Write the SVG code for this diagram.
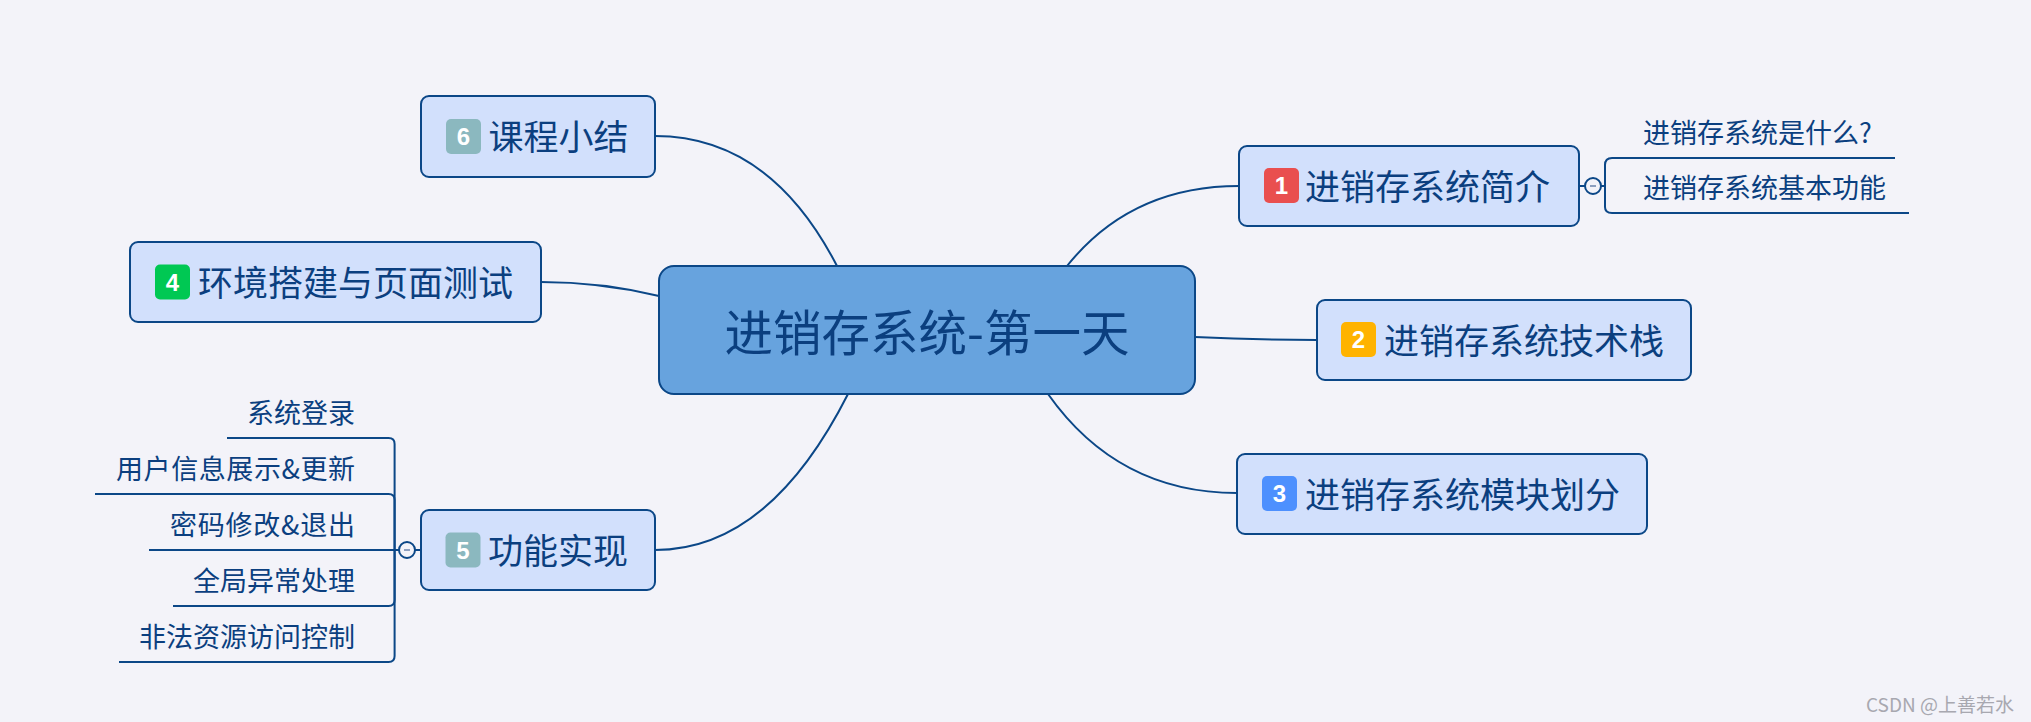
<svg xmlns="http://www.w3.org/2000/svg" width="2031" height="722" viewBox="0 0 2031 722">
<style>
.bg{fill:#f3f3f9}
.node{fill:#d2e0fc;stroke:#0b4787;stroke-width:2}
.central{fill:#67a3de;stroke:#0b4787;stroke-width:2}
.t{font-family:"Noto Sans CJK SC","Noto Sans",sans-serif;fill:#0b3f7f}
.main{font-size:35px}
.sub{font-size:27px}
.badge-t{font-family:"Liberation Sans",Arial,sans-serif;font-weight:bold;font-size:24px;fill:#ffffff;text-anchor:middle}
.conn{fill:none;stroke:#0b4787;stroke-width:2}
.toggle{fill:#f3f3f9;stroke:#0b4787;stroke-width:2}
.minus{stroke:#8c9fbf;stroke-width:2}
</style>
<rect class="bg" x="0" y="0" width="2031" height="722"/>
<g id="connectors">
<path class="conn" d="M1067,266 Q1131,186 1239,186"/>
<path class="conn" d="M1195,337 Q1256,340 1317,340"/>
<path class="conn" d="M1048,394 Q1118,493 1237,493"/>
<path class="conn" d="M837,266 Q770,136 655,136"/>
<path class="conn" d="M659,296 Q601,282 541,282"/>
<path class="conn" d="M848,394 Q769,550 655,550"/>
<path class="conn" d="M1579,186 H1585"/>
<path class="conn" d="M1601,186 H1605 V165 Q1605,158 1612,158 H1895"/>
<path class="conn" d="M1601,186 H1605 V207 Q1605,213 1612,213 H1909"/>
<path class="conn" d="M421,550 H415"/>
<path class="conn" d="M399,550 H394.6 V444 Q394.6,438 388.6,438 H227"/>
<path class="conn" d="M399,550 H394.6 V500 Q394.6,494 388.6,494 H95"/>
<path class="conn" d="M399,550 H149"/>
<path class="conn" d="M399,550 H394.6 V600 Q394.6,606 388.6,606 H173"/>
<path class="conn" d="M399,550 H394.6 V656 Q394.6,662 388.6,662 H119"/>
</g>
<g id="central">
<rect class="central" x="659" y="266" width="536" height="128" rx="15"/>
<text class="t" x="927" y="351" font-size="48.5" text-anchor="middle">进销存系统-第一天</text>
</g>
<g id="node1">
<rect class="node" x="1239" y="146" width="340" height="80" rx="8"/>
<rect x="1264" y="168" width="35" height="35" rx="5" fill="#e94f4f"/>
<text class="badge-t" x="1281.5" y="194">1</text>
<text class="t main" x="1305" y="200">进销存系统简介</text>
<circle class="toggle" cx="1593" cy="186" r="8"/>
<line class="minus" x1="1590" y1="186" x2="1596" y2="186"/>
</g>
<g id="node1-sub1"><text class="t sub" x="1643" y="143">进销存系统是什么?</text></g>
<g id="node1-sub2"><text class="t sub" x="1643" y="198">进销存系统基本功能</text></g>
<g id="node2">
<rect class="node" x="1317" y="300" width="374" height="80" rx="8"/>
<rect x="1341" y="322" width="35" height="35" rx="5" fill="#ffb300"/>
<text class="badge-t" x="1358.5" y="348">2</text>
<text class="t main" x="1384" y="354">进销存系统技术栈</text>
</g>
<g id="node3">
<rect class="node" x="1237" y="454" width="410" height="80" rx="8"/>
<rect x="1262" y="476" width="35" height="35" rx="5" fill="#4d90fe"/>
<text class="badge-t" x="1279.5" y="502">3</text>
<text class="t main" x="1305" y="508">进销存系统模块划分</text>
</g>
<g id="node4">
<rect class="node" x="130" y="242" width="411" height="80" rx="8"/>
<rect x="155" y="264.5" width="35" height="35" rx="5" fill="#00c853"/>
<text class="badge-t" x="172.5" y="290.5">4</text>
<text class="t main" x="198" y="296">环境搭建与页面测试</text>
</g>
<g id="node5">
<rect class="node" x="421" y="510" width="234" height="80" rx="8"/>
<rect x="445.5" y="532.5" width="35" height="35" rx="5" fill="#8bb8bf"/>
<text class="badge-t" x="463" y="558.5">5</text>
<text class="t main" x="488" y="564">功能实现</text>
<circle class="toggle" cx="407" cy="550" r="8"/>
<line class="minus" x1="404" y1="550" x2="410" y2="550"/>
</g>
<g id="node5-sub1"><text class="t sub" x="355" y="423" text-anchor="end">系统登录</text></g>
<g id="node5-sub2"><text class="t sub" x="116" y="479" textLength="239" lengthAdjust="spacing">用户信息展示&amp;更新</text></g>
<g id="node5-sub3"><text class="t sub" x="170" y="535" textLength="185" lengthAdjust="spacing">密码修改&amp;退出</text></g>
<g id="node5-sub4"><text class="t sub" x="355" y="591" text-anchor="end">全局异常处理</text></g>
<g id="node5-sub5"><text class="t sub" x="355" y="647" text-anchor="end">非法资源访问控制</text></g>
<g id="node6">
<rect class="node" x="421" y="96" width="234" height="81" rx="8"/>
<rect x="446" y="119" width="35" height="35" rx="5" fill="#8bb8bf"/>
<text class="badge-t" x="463.5" y="145">6</text>
<text class="t main" x="488.5" y="150">课程小结</text>
</g>
<text x="2014" y="712" font-family="'Noto Sans CJK SC','Noto Sans',sans-serif" font-size="19" fill="#a8a8b0" text-anchor="end">CSDN @上善若水</text>
</svg>
